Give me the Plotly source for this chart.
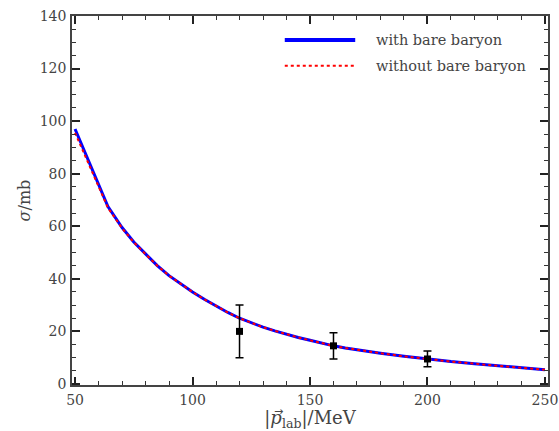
import plotly.graph_objects as go

# Curve data
p_lab = [50, 64, 70, 75, 80, 85, 90, 95, 100, 105, 110, 115, 120, 125, 130, 135, 140, 145, 150,
         155, 160, 165, 170, 180, 190, 200, 210, 220, 230, 240, 250]
sigma_with = [97, 67.5, 59.5, 54, 49.5, 45, 41.2, 38, 35, 32.2, 29.6, 27.2, 25, 23.2, 21.6, 20.2, 18.9, 17.7, 16.6,
              15.5, 14.5, 13.7, 13, 11.7, 10.5, 9.4, 8.5, 7.7, 6.9, 6.2, 5.4]
sigma_without = [95.5, 67, 59.3, 53.9, 49.4, 45, 41.2, 38, 35, 32.2, 29.6, 27.2, 25, 23.2, 21.6, 20.2, 18.9, 17.7, 16.6,
                 15.5, 14.5, 13.7, 13, 11.7, 10.5, 9.4, 8.5, 7.7, 6.9, 6.2, 5.4]

# Experimental points
exp_p = [120, 160, 200]
exp_sigma = [20, 14.5, 9.5]
exp_err = [10, 5, 3]

legend_labels = ["with bare baryon", "without bare baryon"]

FONT = "DejaVu Serif"

fig = go.Figure()
fig.add_trace(go.Scatter(x=p_lab, y=sigma_with, mode="lines",
                         line=dict(color="#0000ff", width=3), name=legend_labels[0], showlegend=False))
fig.add_trace(go.Scatter(x=p_lab, y=sigma_without, mode="lines",
                         line=dict(color="#ff0000", width=2, dash="dot"), name=legend_labels[1], showlegend=False))
fig.add_trace(go.Scatter(x=exp_p, y=exp_sigma, mode="markers",
                         marker=dict(symbol="square", color="black", size=7),
                         error_y=dict(type="data", array=exp_err, color="black", thickness=1.5, width=4),
                         showlegend=False))

# manual legend (paper coordinates)
leg_y = [0.935, 0.865]
leg_styles = [dict(color="#0000ff", width=4), dict(color="#ff0000", width=2, dash="dot")]
for yy, st, lab in zip(leg_y, leg_styles, legend_labels):
    fig.add_shape(type="line", xref="paper", yref="paper", x0=0.447, x1=0.595, y0=yy, y1=yy, line=st)
    fig.add_annotation(xref="paper", yref="paper", x=0.634, y=yy, text=lab, showarrow=False,
                       xanchor="left", yanchor="middle", font=dict(family=FONT, size=14.5, color="#444"))

axis_common = dict(
    showline=True, linecolor="#444", linewidth=1.5, mirror="allticks",
    ticks="inside", ticklen=8, tickwidth=1.5, tickcolor="#222",
    showgrid=False, zeroline=False, automargin=False,
    tickfont=dict(family=FONT, size=14, color="#444"),
)

fig.update_xaxes(range=[48.7, 251.3], tick0=50, dtick=50, ticklabelstandoff=1,
                 minor=dict(ticks="inside", dtick=10, ticklen=4, tickwidth=1, tickcolor="#333"),
                 title=dict(text="|<i>p</i><sub>lab</sub>|/MeV",
                            font=dict(family=FONT, size=18, color="#444"), standoff=6),
                 **axis_common)
fig.update_yaxes(range=[-0.4, 140], tick0=0, dtick=20, ticklabelstandoff=1,
                 minor=dict(ticks="inside", dtick=5, ticklen=4, tickwidth=1, tickcolor="#333"),
                 title=dict(text="<i>σ</i>/mb", font=dict(family=FONT, size=16, color="#444"), standoff=5),
                 **axis_common)

fig.update_layout(width=559, height=431, margin=dict(l=72, r=11, t=16, b=46),
                  plot_bgcolor="white", paper_bgcolor="white", showlegend=False)

# vector arrow over the p in the x title
fig.add_annotation(xref="paper", yref="paper", x=0.434, y=-0.073, text="\u2192", showarrow=False,
                   xanchor="center", yanchor="middle", font=dict(family="DejaVu Sans", size=11, color="#444"))

fig.write_html("out.html")
